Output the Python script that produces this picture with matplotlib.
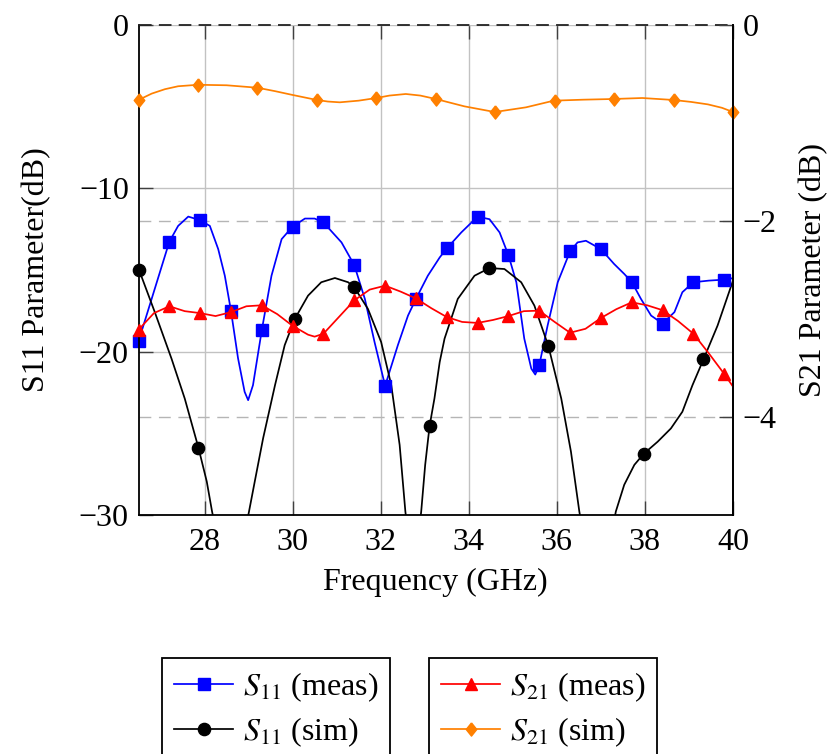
import numpy as np
import matplotlib
matplotlib.use("Agg")
import matplotlib.pyplot as plt
from matplotlib.lines import Line2D
from matplotlib.transforms import blended_transform_factory

plt.rcParams['font.family'] = ['Liberation Serif', 'DejaVu Serif']
plt.rcParams['mathtext.fontset'] = 'stix'
plt.rcParams['axes.unicode_minus'] = True

# ---------------- data ----------------
# S11 measured (dB), curve
s11_meas_f = [26.5, 27.2, 27.40, 27.63, 27.9, 28.12, 28.31, 28.46, 28.6, 28.76, 28.91, 28.99, 29.10,
              29.3, 29.52, 29.75, 30.0, 30.28, 30.5, 30.7, 31.11, 31.4, 31.64, 31.86, 32.1, 32.39,
              32.62, 32.8, 33.07, 33.34, 33.5, 33.83, 34.2, 34.47, 34.70, 34.9, 35.08, 35.26, 35.42,
              35.51, 35.6, 35.79, 36.02, 36.3, 36.47, 36.66, 37.0, 37.30, 37.53, 37.7, 37.91, 38.14,
              38.4, 38.67, 38.85, 39.1, 39.45, 39.8, 40.0]
s11_meas_v = [-19.37, -13.27, -12.3, -11.73, -11.95, -12.3, -13.72, -15.35, -17.5, -20.4, -22.46, -22.97, -22.05,
              -18.68, -15.35, -13.11, -12.34, -11.85, -11.85, -12.09, -13.31, -14.70, -16.77, -19.41, -22.09, -19.6,
              -17.79, -16.77, -15.35, -14.23, -13.68, -12.7, -11.73, -11.89, -12.7, -14.09, -15.75, -19.2, -21.04,
              -21.40, -20.84, -18.4, -15.75, -13.86, -13.31, -13.21, -13.72, -14.63, -15.24, -15.73, -16.77, -17.79,
              -18.28, -17.58, -16.36, -15.75, -15.65, -15.59, -15.5]
# S11 measured, marker points
s11_meas_mf = [26.5, 27.2, 27.9, 28.6, 29.3, 30.0, 30.7, 31.4, 32.1, 32.8,
               33.5, 34.2, 34.9, 35.6, 36.3, 37.0, 37.7, 38.4, 39.1, 39.8]
s11_meas_mv = [-19.37, -13.27, -11.95, -17.5, -18.68, -12.34, -12.09, -14.70, -22.09, -16.77,
               -13.68, -11.73, -14.09, -20.84, -13.86, -13.72, -15.73, -18.28, -15.75, -15.59]

# S11 simulated (dB), curve (dips go below the -30 dB limit)
s11_sim_f = [26.51, 26.87, 27.25, 27.55, 27.86, 28.05, 28.17, 28.4, 28.6, 28.8, 29.01, 29.14, 29.33,
             29.6, 29.82, 30.05, 30.35, 30.65, 30.96, 31.26, 31.40, 31.71, 32.01, 32.24, 32.43, 32.56,
             32.74, 32.92, 33.01, 33.11, 33.22, 33.34, 33.45, 33.75, 34.13, 34.47, 34.81, 35.19, 35.49,
             35.81, 36.1, 36.32, 36.51, 36.9, 37.34, 37.53, 37.76, 37.97, 38.29, 38.59, 38.85, 39.08,
             39.33, 39.65, 40.0]
s11_sim_v = [-14.98, -17.58, -20.43, -22.87, -25.87, -27.95, -29.78, -32.8, -34.0, -32.6, -29.78, -27.95, -25.3,
             -22.05, -19.6, -17.99, -16.57, -15.75, -15.49, -15.75, -16.06, -17.38, -19.41, -22.05, -25.71, -29.78,
             -34.0, -29.78, -26.93, -24.55, -22.87, -20.63, -19.2, -16.77, -15.35, -14.88, -14.94, -15.75, -17.18,
             -19.68, -22.87, -26.12, -29.78, -36.0, -29.78, -28.15, -26.93, -26.26, -25.51, -24.7, -23.68, -22.05,
             -20.47, -18.4, -15.65]
s11_sim_mf = [26.51, 27.86, 30.05, 31.40, 33.11, 34.47, 35.81, 37.97, 39.33]
s11_sim_mv = [-14.98, -25.87, -17.99, -16.06, -24.55, -14.88, -19.68, -26.26, -20.47]

# S21 measured (dB), curve
s21_meas_f = [26.5, 26.85, 27.2, 27.55, 27.9, 28.25, 28.6, 28.95, 29.3, 29.65, 30.0, 30.35, 30.5,
              30.7, 31.05, 31.4, 31.75, 32.1, 32.45, 32.8, 33.15, 33.5, 33.85, 34.2, 34.55, 34.9,
              35.25, 35.6, 35.95, 36.3, 36.65, 37.0, 37.35, 37.7, 38.05, 38.4, 38.75, 39.1, 39.45,
              39.8, 40.0]
s21_meas_v = [-3.11, -2.94, -2.87, -2.92, -2.94, -2.97, -2.93, -2.87, -2.86, -2.95, -3.07, -3.16, -3.18,
              -3.15, -2.98, -2.81, -2.70, -2.66, -2.72, -2.79, -2.89, -2.98, -3.03, -3.04, -3.01, -2.97,
              -2.92, -2.915, -3.03, -3.14, -3.10, -2.99, -2.90, -2.83, -2.86, -2.91, -3.02, -3.15, -3.35,
              -3.56, -3.69]
s21_meas_mf = [26.5, 27.2, 27.9, 28.6, 29.3, 30.0, 30.7, 31.4, 32.1, 32.8,
               33.5, 34.2, 34.9, 35.6, 36.3, 37.0, 37.7, 38.4, 39.1, 39.8]
s21_meas_mv = [-3.11, -2.87, -2.94, -2.93, -2.86, -3.07, -3.15, -2.81, -2.66, -2.79,
               -2.98, -3.04, -2.97, -2.915, -3.14, -2.99, -2.83, -2.91, -3.15, -3.56]

# S21 simulated (dB), curve
s21_sim_f = [26.5, 26.8, 27.1, 27.4, 27.85, 28.5, 29.2, 29.6, 30.0, 30.55, 30.8, 31.07, 31.5, 31.9,
             32.2, 32.57, 32.9, 33.25, 33.9, 34.59, 35.3, 35.93, 36.6, 37.28, 37.94, 38.65, 39.05,
             39.43, 39.75, 40.0]
s21_sim_v = [-0.765, -0.70, -0.655, -0.625, -0.61, -0.615, -0.64, -0.675, -0.714, -0.765, -0.781, -0.789,
             -0.772, -0.745, -0.72, -0.704, -0.72, -0.755, -0.83, -0.888, -0.84, -0.772, -0.762, -0.755,
             -0.745, -0.765, -0.785, -0.81, -0.845, -0.888]
s21_sim_mf = [26.5, 27.85, 29.2, 30.55, 31.9, 33.25, 34.6, 35.95, 37.3, 38.65, 40.0]
s21_sim_mv = [-0.765, -0.61, -0.64, -0.765, -0.745, -0.755, -0.888, -0.772, -0.755, -0.765, -0.888]

x_ticks = [28, 30, 32, 34, 36, 38, 40]
s11_ticks = [-30, -20, -10, 0]
s21_ticks = [-4, -2, 0]

labels_s11 = [r"$S_{11}$ (meas)", r"$S_{11}$ (sim)"]
labels_s21 = [r"$S_{21}$ (meas)", r"$S_{21}$ (sim)"]

# ---------------- styles ----------------
FS = 23
LW = 1.25
C_BLUE = (0, 0, 1)
C_RED = (1, 0, 0)
C_BLACK = (0, 0, 0)
C_ORANGE = (1, 0.5, 0)
GRID = '#c2c2c2'
TICKC = '#404040'
diamond = [(0, 1), (0.8, 0), (0, -1), (-0.8, 0), (0, 1)]

fig = plt.figure(figsize=(8.35, 7.54), dpi=100)
W, H = 835, 754
L, R, T, B = 138.5, 733, 25, 515
ax = fig.add_axes([L / W, 1 - B / H, (R - L) / W, (B - T) / H])
ax2 = ax.twinx()

ax.set_xlim(26.5, 40)
ax.set_ylim(-30, 0)
ax2.set_ylim(-5, 0)
ax.set_xticks(x_ticks)
ax.set_yticks(s11_ticks)
ax2.set_yticks(s21_ticks)

# grids
ax.grid(True, axis='x', color=GRID, lw=1.0, zorder=0)
ax.grid(True, axis='y', color=GRID, lw=1.0, zorder=0)
ax.set_axisbelow(True)
bt = blended_transform_factory(ax.transAxes, ax2.transData)
for v in s21_ticks[:-1]:
    ax.plot([0, 1], [v, v], transform=bt, color='#b5b5b5', lw=1.0,
            ls=(0, (8.5, 5.5)), zorder=0.9)
ax.plot([0, 1], [s21_ticks[-1]] * 2, transform=bt, color='#222222', lw=1.3,
        ls=(0, (7, 4)), zorder=3, clip_on=False)

for sp in ['top']:
    ax.spines[sp].set_visible(False)
    ax2.spines[sp].set_visible(False)
for sp in ['left', 'bottom']:
    ax2.spines[sp].set_visible(False)
for a in (ax, ax2):
    for sp in a.spines.values():
        sp.set_linewidth(1.3)
        sp.set_color('black')

ax.tick_params(axis='x', which='both', direction='in', length=10, width=1.0, color=TICKC,
               top=True, bottom=True, labelsize=FS, pad=9)
ax.tick_params(axis='y', which='both', direction='in', length=10, width=1.0, color=TICKC,
               left=True, right=False, labelsize=FS, pad=7)
ax2.tick_params(axis='y', which='both', direction='in', length=10, width=1.0, color=TICKC,
                right=True, labelsize=FS, pad=7)

# S11 on left axis
ax.plot(s11_meas_f, s11_meas_v, color=C_BLUE, lw=LW, zorder=2)
ax.plot(s11_meas_mf, s11_meas_mv, ls='none', marker='s', ms=8.5, color=C_BLUE,
        zorder=2.1, clip_on=False)
ax.plot(s11_sim_f, s11_sim_v, color=C_BLACK, lw=LW, zorder=2)
ax.plot(s11_sim_mf, s11_sim_mv, ls='none', marker='o', ms=8.8, color=C_BLACK,
        zorder=2.1, clip_on=False)

# S21 on right axis
ax2.plot(s21_meas_f, s21_meas_v, color=C_RED, lw=LW, zorder=2)
ax2.plot(s21_meas_mf, s21_meas_mv, ls='none', marker='^', ms=8.7, color=C_RED,
         zorder=2.1, clip_on=False)
ax2.plot(s21_sim_f, s21_sim_v, color=C_ORANGE, lw=LW, zorder=2)
ax2.plot(s21_sim_mf, s21_sim_mv, ls='none', marker=diamond, ms=9.5, color=C_ORANGE,
         zorder=2.1, clip_on=False)

ax.set_xlabel("Frequency (GHz)", fontsize=FS)
ax.xaxis.set_label_coords(0.5, -0.137)
ax.xaxis.label.set_va('center')
ax.set_ylabel("S11 Parameter(dB)", fontsize=FS)
ax.yaxis.set_label_coords(-0.171, 0.5)
ax.yaxis.label.set_va('center')
ax2.set_ylabel("S21 Parameter (dB)", fontsize=FS)
ax2.yaxis.set_label_coords(1.136, 0.5)
ax2.yaxis.label.set_va('center')

# legends
h1 = [Line2D([], [], color=C_BLUE, lw=LW, marker='s', ms=8.5),
      Line2D([], [], color=C_BLACK, lw=LW, marker='o', ms=8.8)]
h2 = [Line2D([], [], color=C_RED, lw=LW, marker='^', ms=8.7),
      Line2D([], [], color=C_ORANGE, lw=LW, marker=diamond, ms=9.5)]
common = dict(loc='upper left', fontsize=FS, frameon=True, fancybox=False,
              framealpha=1, edgecolor='black', borderpad=0.38, labelspacing=0.38,
              handlelength=1.85, handletextpad=0.3, borderaxespad=0, numpoints=1)
leg1 = fig.legend(h1, labels_s11, bbox_to_anchor=(162 / W, 1 - 658 / H), **common)
leg2 = fig.legend(h2, labels_s21, bbox_to_anchor=(429 / W, 1 - 658 / H), **common)
for lg in (leg1, leg2):
    lg.get_frame().set_linewidth(1.3)

fig.savefig("out.png", dpi=100)
